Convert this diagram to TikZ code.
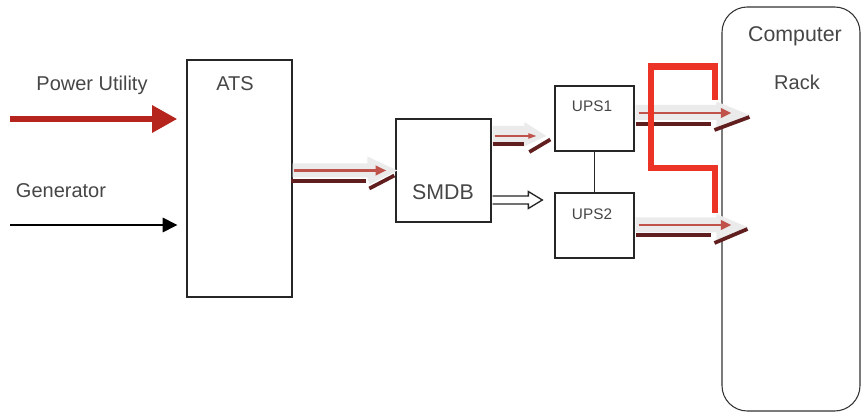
\documentclass[tikz,border=0pt]{standalone}
\usepackage{fontspec}
\setmainfont{Liberation Sans}
\usetikzlibrary{arrows.meta,calc,fit}
\definecolor{utilityred}{RGB}{182,36,30}
\definecolor{feedred}{RGB}{192,82,76}
\definecolor{feeddark}{RGB}{96,30,30}
\definecolor{bypassred}{RGB}{236,52,38}
\definecolor{inkgray}{RGB}{70,70,70}
\begin{document}
\begin{tikzpicture}[x=0.75pt,y=-0.75pt,
  box/.style={draw=black!85,line width=1pt,inner sep=0pt},
  rackbox/.style={draw=black!80,line width=0.8pt,inner sep=0pt,rounded corners=19pt},
  lbl/.style={font=\fontsize{15}{18}\selectfont,text=inkgray,inner sep=0pt},
  biglbl/.style={font=\fontsize{16}{19}\selectfont,text=inkgray,inner sep=0pt},
  smalllbl/.style={font=\fontsize{11.5}{14}\selectfont,text=inkgray,inner sep=0pt},
  glow/.style={fill=black!8,draw=none},
  feedline/.style={draw=feedred,line width=2.2pt,-{Triangle[length=8pt,width=7pt]}},
  thinfeed/.style={draw=feedred,line width=0.9pt,-{Triangle[length=6pt,width=4pt]}},
  returnline/.style={draw=feeddark,line width=2.8pt},
  bypass/.style={draw=bypassred,line width=4.8pt,line join=miter},
]
\useasboundingbox (0,0) rectangle (861,413);

% equipment blocks
\node[box, fit={(187,60)(292,297)}] (ats) {};
\node[box, fit={(396,119)(491,222)}] (smdb) {};
\node[box, fit={(555,86)(634,151)}] (ups1) {};
\node[box, fit={(555,193)(634,258)}] (ups2) {};
\node[rackbox, fit={(722,7)(860,411)}] (rack) {};

% labels
\node[lbl] (pulbl) at (92,85) {Power Utility};
\node[lbl] (genlbl) at (61,191) {Generator};
\node[lbl] (atslbl) at (235,84) {ATS};
\node[biglbl] (smdblbl) at (443,192) {SMDB};
\node[smalllbl] (ups1lbl) at (592,106) {UPS1};
\node[smalllbl] (ups2lbl) at (592,214) {UPS2};
\node[biglbl] (complbl) at (795,36) {Computer};
\node[lbl] (racklbl) at (797,82) {Rack};

% incoming supplies
\coordinate (pu) at (10,119);
\coordinate (gen) at (10,225);
\draw[utilityred,line width=4.8pt,shorten >=6.75pt,
      -{Triangle[length=19pt,width=19.5pt]}] (pu) -- (pu -| ats.west);
\draw[black,line width=0.9pt,shorten >=6.75pt,
      -{Triangle[length=11pt,width=11pt]}] (gen) -- (gen -| ats.west);

% ATS -> SMDB
\coordinate (a) at (ats.east |- smdb.west);
\fill[glow] ($(a)+(0,-7)$) -- ($(smdb.west)+(-28,-7)$) -- ($(smdb.west)+(-28,-14)$)
  -- ($(smdb.west)+(2,0)$) -- ($(smdb.west)+(-26,14)$) -- ($(smdb.west)+(-28,7)$)
  -- ($(a)+(0,7)$) -- cycle;
\draw[feedline] ($(a)+(1,0)$) -- ($(smdb.west)+(-9,0)$);
\draw[returnline] ($(a)+(-2,10.5)$) -- ($(smdb.west)+(-29,10.5)$);
\draw[returnline] ($(smdb.west)+(-26,18)$) -- ($(smdb.west)+(-1,5)$);

% SMDB -> UPS1
\coordinate (b) at (smdb.east |- ups1.west);
\fill[glow] ($(b)+(1,7.5)$) -- ($(ups1.west)+(-30,7.5)$) -- ($(ups1.west)+(-30,3.5)$)
  -- ($(ups1.west)+(-8,17.5)$) -- ($(ups1.west)+(-30,28)$) -- ($(b)+(1,27)$) -- cycle;
\draw[thinfeed] ($(b)+(3,17.5)$) -- ($(ups1.west)+(-18,17.5)$);
\draw[returnline] ($(b)+(1,25.5)$) -- ($(ups1.west)+(-30,25.5)$);
\draw[returnline] ($(ups1.west)+(-25,33.5)$) -- ($(ups1.west)+(-4,21)$);

% SMDB -> UPS2 (hollow arrow)
\coordinate (c) at (smdb.east |- ups2.west);
\draw[black!85,line width=1pt,fill=white,line join=miter]
  ($(c)+(1,-29.5)$) -- ($(ups2.west)+(-26,-29.5)$) -- ($(ups2.west)+(-26,-34)$)
  -- ($(ups2.west)+(-12,-25.5)$) -- ($(ups2.west)+(-26,-17)$)
  -- ($(ups2.west)+(-26,-21.5)$) -- ($(c)+(1,-21.5)$);

% UPS1 -> rack
\coordinate (d) at (rack.west |- ups1.east);
\fill[glow] ($(ups1.east)+(1,-13.5)$) -- ($(d)+(-5,-13.5)$) -- ($(d)+(-5,-17)$)
  -- ($(d)+(28,-3.5)$) -- ($(d)+(-5,10)$) -- ($(d)+(-5,1.5)$)
  -- ($(ups1.east)+(1,1.5)$) -- cycle;
\draw[feedline] ($(ups1.east)+(4,-5.5)$) -- ($(d)+(10,-5.5)$);
\draw[returnline] ($(ups1.east)+(1,5.5)$) -- ($(d)+(-10,5.5)$);
\draw[returnline] ($(d)+(-7,11.5)$) -- ($(d)+(28,-1.5)$);

% UPS2 -> rack
\coordinate (e) at (rack.west |- ups2.east);
\fill[glow] ($(ups2.east)+(1,-8)$) -- ($(d |- e)+(-5,-8)$) -- ($(e)+(-5,-11.5)$)
  -- ($(e)+(27,2)$) -- ($(e)+(-5,15)$) -- ($(e)+(-5,7)$)
  -- ($(ups2.east)+(1,7)$) -- cycle;
\draw[feedline] ($(ups2.east)+(4,-0.5)$) -- ($(e)+(10,-0.5)$);
\draw[returnline] ($(ups2.east)+(1,9.5)$) -- ($(e)+(-10,9.5)$);
\draw[returnline] ($(e)+(-7,17.5)$) -- ($(e)+(26,3.5)$);

% link between the two UPS units
\draw[black!85,line width=0.9pt] (ups1.south) -- (ups2.north);

% bypass path beside the rack
\draw[bypass] (715,100) -- (715,66.5) -- (651,66.5) -- (651,168) -- (715,168) -- (715,213);
\end{tikzpicture}
\end{document}
